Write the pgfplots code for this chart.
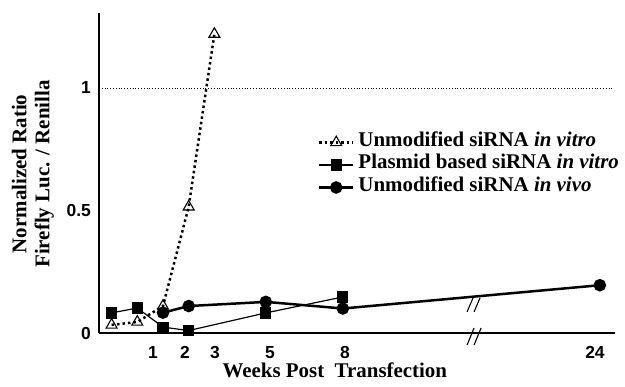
\documentclass[border=0pt]{standalone}
\usepackage{fontspec}
\setmainfont{Liberation Serif}
\newfontfamily\ticksans{Liberation Sans}
\usepackage{pgfplots}
\pgfplotsset{compat=1.18}
\begin{document}
\begin{tikzpicture}
\begin{axis}[
  scale only axis, width=516bp, height=320bp,
  xmin=-1.49, xmax=18.59, ymin=0, ymax=1.306,
  axis lines*=left,
  axis line style={line width=1.8bp},
  major tick length=0,
  clip=false,
  xtick={0.61,1.86,3.02,5.16,8.08,17.81},
  xticklabels={1,2,3,5,8,24},
  ytick={0,0.5,1},
  yticklabels={0,0.5,1},
  /pgf/number format/assume math mode=true,
  tick label style={font=\ticksans\bfseries\fontsize{17.5}{20}\selectfont},
  xticklabel style={anchor=base, inner sep=0pt, yshift=-25bp},
  yticklabel style={anchor=east, inner sep=0pt, xshift=-8bp},
  xlabel={Weeks Post\ \ Transfection},
  xlabel style={at={(axis description cs:0.457,0)}, anchor=base, inner sep=0pt, yshift=-44bp,
    font=\bfseries\fontsize{21}{24}\selectfont},
  ylabel={Normalized Ratio\\[-1bp]Firefly Luc. / Renilla},
  ylabel style={at={(axis description cs:-0.128,0.497)}, anchor=center, align=center,
    inner sep=0pt, font=\bfseries\fontsize{21}{24}\selectfont},
  legend style={at={(axis description cs:0.424,0.525)}, anchor=west, draw=none, fill=none,
    inner sep=0pt, row sep=0bp, font=\bfseries\fontsize{21}{24}\selectfont,
    nodes={inner xsep=4bp, inner ysep=0pt, text height=15bp, text depth=7.5bp}},
  legend cell align=left,
  legend image code/.code={
    \draw[mark repeat=2,mark phase=2] plot coordinates {(0bp,0bp)(17bp,0bp)(34bp,0bp)};
  },
]
% reference line at 1
\addplot[forget plot, line width=0.9bp, dash pattern=on 1bp off 1.8bp] coordinates {(-1.49,1) (18.51,1)};
% Unmodified siRNA in vitro
\addplot[black, line width=2.5bp, dash pattern=on 2.5bp off 3bp,
  mark=triangle, mark size=6.3bp, mark options={solid, fill=white, line width=1.1bp}]
  coordinates {(-1,0.033) (0,0.045) (1,0.11) (2,0.515) (3,1.22)};
\addlegendentry{Unmodified siRNA \textit{in vitro}}
% Plasmid based siRNA in vitro
\addplot[black, line width=1.2bp, mark=square*, mark size=5bp, mark options={solid}]
  coordinates {(-1,0.082) (0,0.102) (1,0.024) (2,0.01) (5,0.082) (8,0.147)};
\addlegendentry{Plasmid based siRNA \textit{in vitro}}
% Unmodified siRNA in vivo
\addplot[black, line width=2.5bp, mark=*, mark size=5bp, mark options={solid}]
  coordinates {(1,0.083) (2,0.11) (5,0.127) (8,0.10) (18,0.195)};
\addlegendentry{Unmodified siRNA \textit{in vivo}}
% break marks
\draw[line width=1.1bp] (axis cs:12.95,0.115)++(-3bp,-7bp) -- ++(6bp,14bp);
\draw[line width=1.1bp] (axis cs:12.95,0.115)++(4bp,-7bp) -- ++(6bp,14bp);
\draw[line width=1.1bp] (axis cs:12.95,0)++(-3bp,-12bp) -- ++(7bp,17bp);
\draw[line width=1.1bp] (axis cs:12.95,0)++(4bp,-12bp) -- ++(7bp,17bp);
\end{axis}
\pgfresetboundingbox
\path ([shift={(-99bp,-54bp)}]current axis.south west) rectangle ++(625bp,387bp);
\end{tikzpicture}
\end{document}
